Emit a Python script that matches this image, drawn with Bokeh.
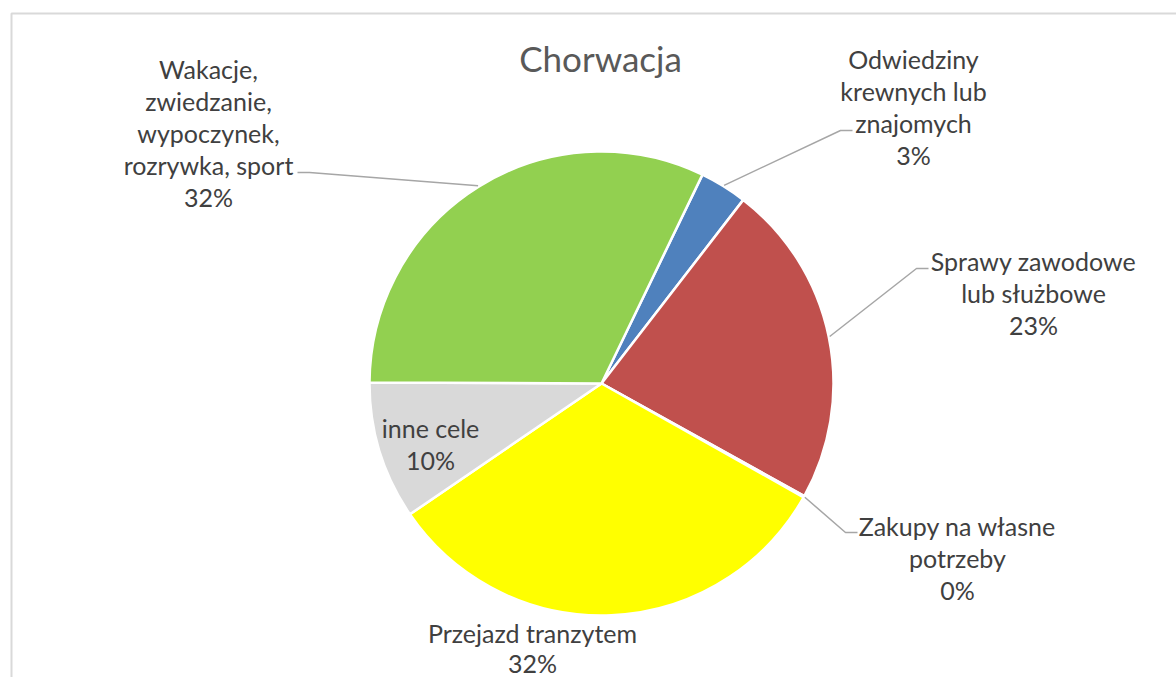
import math
from bokeh.plotting import figure
from bokeh.models import Range1d
from bokeh.embed import file_html
from bokeh.resources import INLINE
from bokeh.core.properties import value

# ---------------- data ----------------
title_text = "Chorwacja"
categories = [
    "Odwiedziny\nkrewnych lub\nznajomych",
    "Sprawy zawodowe\nlub służbowe",
    "Zakupy na własne\npotrzeby",
    "Przejazd tranzytem",
    "inne cele",
    "Wakacje,\nzwiedzanie,\nwypoczynek,\nrozrywka, sport",
]
shares = [3.3, 22.6, 0.1, 32.3, 9.6, 32.1]
colors = ["#4F81BD", "#C0504D", "#9BBB59", "#FFFF00", "#D9D9D9", "#92D050"]

# ---------------- layout ----------------
W, H = 1176, 677
CX, CY, R = 601, 383, 232          # pixel centre / radius
START = 25.8                        # first slice start, degrees clockwise from 12 o'clock
FONT = "Lato"
LABEL_SIZE = 25
LINE_STEP = 32
TEXT_COLOR = "#404040"
# first-line centre of each label (pixels)
label_pos = [(913, 58), (1033, 260), (957, 525), (532, 632), (430, 427), (208, 68)]
label_step = [LINE_STEP, LINE_STEP, LINE_STEP, 30, LINE_STEP, LINE_STEP]
# text-side end of leader line (pixels), and stub direction (+1 to right, -1 to left)
leader_pos = [(852, 130, -1), (928, 268, -1), (857, 532, -1), None, None, (297, 172, 1)]


def Y(py):
    return H - py


p = figure(width=W, height=H, output_backend="svg", toolbar_location=None,
           x_range=Range1d(0, W), y_range=Range1d(0, H),
           min_border=0, x_axis_type=None, y_axis_type=None)
p.grid.visible = False
p.outline_line_color = None
p.background_fill_color = "white"
p.border_fill_color = "white"

# chart border (extends beyond the window on right and bottom)
p.quad(left=[11], right=[W + 20], top=[Y(13)], bottom=[Y(H + 20)],
       fill_color=None, line_color="#D9D9D9", line_width=2)

total = sum(shares)
angles = []
a = START
for s in shares:
    span = s / total * 360.0
    angles.append((a, a + span))
    a += span

for (a0, a1), col in zip(angles, colors):
    p.wedge(x=[CX], y=[Y(CY)], radius=R,
            start_angle=[math.radians(90 - a1)], end_angle=[math.radians(90 - a0)],
            fill_color=col, line_color="white", line_width=2.5)

# leader lines
for (a0, a1), lp in zip(angles, leader_pos):
    if lp is None:
        continue
    sx, sy, d = lp
    mid = math.radians((a0 + a1) / 2)
    ex = CX + (R + 1) * math.sin(mid)
    ey = CY - (R + 1) * math.cos(mid)
    xs = [sx, sx + d * 12, ex]
    ys = [Y(sy), Y(sy), Y(ey)]
    p.line(xs, ys, line_color="#A6A6A6", line_width=1.5)

# labels
tx, ty, tt = [], [], []
for cat, s, (lx, ly), st in zip(categories, shares, label_pos, label_step):
    lines = cat.split("\n") + [f"{round(s / total * 100):d}%"]
    for i, ln in enumerate(lines):
        tx.append(lx)
        ty.append(Y(ly + i * st))
        tt.append(ln)
p.text(x=tx, y=ty, text=tt, text_font=value(FONT), text_font_size=f"{LABEL_SIZE}px",
       text_color=TEXT_COLOR, text_align="center", text_baseline="middle")

# title
p.text(x=[600], y=[Y(57)], text=[title_text], text_font=value(FONT), text_font_size="35px",
       text_color="#595959", text_align="center", text_baseline="middle")

open("out.html", "w").write(file_html(p, INLINE))
